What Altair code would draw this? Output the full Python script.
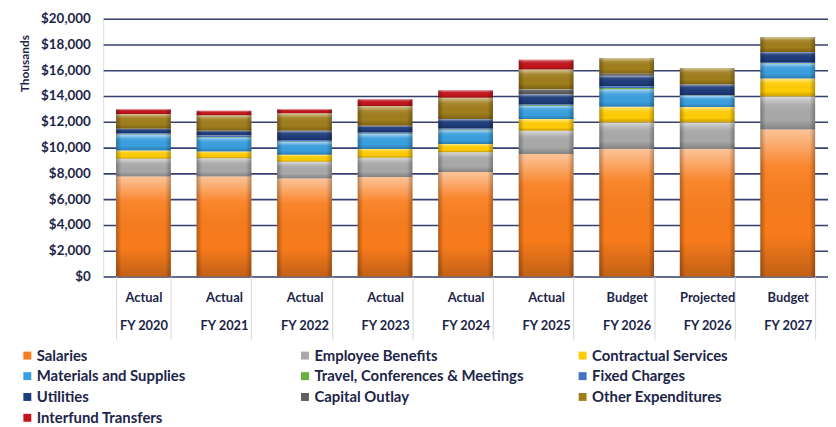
import altair as alt
import pandas as pd

periods = ["Actual|FY 2020", "Actual|FY 2021", "Actual|FY 2022", "Actual|FY 2023",
           "Actual|FY 2024", "Actual|FY 2025", "Budget|FY 2026", "Projected|FY 2026",
           "Budget|FY 2027"]
series_names = ["Salaries", "Employee Benefits", "Contractual Services",
                "Materials and Supplies", "Travel, Conferences & Meetings",
                "Fixed Charges", "Utilities", "Capital Outlay",
                "Other Expenditures", "Interfund Transfers"]

salaries    = [7750, 7750, 7600, 7720, 8100, 9510, 9900, 9900, 11400]
benefits    = [1380, 1430, 1300, 1490, 1540, 1800, 2050, 2050, 2560]
contractual = [640, 510, 550, 690, 640, 900, 1210, 1200, 1410]
materials   = [1200, 1100, 980, 1150, 1070, 1020, 1360, 850, 1150]
travel      = [40, 40, 50, 50, 60, 60, 100, 40, 50]
fixed       = [100, 100, 100, 100, 100, 70, 150, 40, 80]
utilities   = [360, 380, 720, 490, 700, 770, 800, 820, 770]
capital     = [0, 0, 0, 0, 0, 390, 150, 0, 0]
other       = [1140, 1200, 1360, 1540, 1660, 1530, 1230, 1280, 1160]
interfund   = [360, 340, 310, 520, 570, 770, 0, 0, 0]

colors = ["#F97C1C", "#A9A9A9", "#FFCC05", "#3A9FDF", "#68B03A",
          "#4472C4", "#1F3D7C", "#5F5F5F", "#A07E1C", "#C2151C"]

all_series = [salaries, benefits, contractual, materials, travel, fixed,
              utilities, capital, other, interfund]

rows = []
for i, (name, vals) in enumerate(zip(series_names, all_series)):
    for p, v in zip(periods, vals):
        rows.append({"period": p, "series": name, "idx": i, "value": v})
df = pd.DataFrame(rows)

FONT = "Lato"
TXT = "#1C2548"

x_enc = alt.X("period:N", sort=periods,
              scale=alt.Scale(paddingInner=0.32, paddingOuter=0.16),
              axis=alt.Axis(title=None, labelExpr="split(datum.label, '|')",
                            labelAngle=0, labelFont=FONT, labelFontWeight="bold",
                            labelFontSize=13, labelColor=TXT, labelLineHeight=28,
                            tickBand="extent", ticks=True, tickSize=63,
                            tickColor="#D6D6D6", tickWidth=1, domain=False,
                            labelPadding=-48, grid=False))
y_enc = alt.Y("value:Q", stack="zero",
              scale=alt.Scale(domain=[0, 20000], nice=False),
              axis=alt.Axis(title="Thousands", values=list(range(0, 20001, 2000)),
                            format="$,.0f", labelFont=FONT, labelFontWeight="bold",
                            labelFontSize=13.5, labelColor=TXT, labelPadding=13,
                            ticks=False, domain=False, grid=True,
                            gridColor="#34406E", gridWidth=1.6,
                            titleFont=FONT, titleFontWeight="bold", titleFontSize=12,
                            titleColor=TXT, titleAngle=-90, titleAlign="right",
                            titleBaseline="middle", titleX=-79, titleY=16))

base = alt.Chart(df).mark_bar(stroke=None).encode(
    x=x_enc,
    y=y_enc,
    color=alt.Color("series:N", sort=series_names,
                    scale=alt.Scale(domain=series_names, range=colors),
                    legend=alt.Legend(title=None, orient="none", legendX=-84,
                                      legendY=332, columns=3, gridAlign="all",
                                      direction="horizontal",
                                      columnPadding=51, rowPadding=5,
                                      symbolType="square", symbolSize=64,
                                      symbolStrokeWidth=0, labelFont=FONT,
                                      labelFontWeight="bold", labelFontSize=15,
                                      labelColor=TXT, labelOffset=2,
                                      labelLimit=400)),
    order=alt.Order("idx:Q", sort="ascending"),
)

shade_v = alt.Gradient(gradient="linear", x1=0, x2=0, y1=0, y2=1, stops=[
    alt.GradientStop(color="rgba(255,255,255,0.55)", offset=0),
    alt.GradientStop(color="rgba(255,255,255,0.08)", offset=0.25),
    alt.GradientStop(color="rgba(0,0,0,0)", offset=0.7),
    alt.GradientStop(color="rgba(0,0,0,0.22)", offset=1)])
shade_h = alt.Gradient(gradient="linear", x1=0, x2=1, y1=0, y2=0, stops=[
    alt.GradientStop(color="rgba(0,0,0,0.28)", offset=0),
    alt.GradientStop(color="rgba(0,0,0,0)", offset=0.1),
    alt.GradientStop(color="rgba(0,0,0,0)", offset=0.9),
    alt.GradientStop(color="rgba(0,0,0,0.28)", offset=1)])

over_v = alt.Chart(df).mark_bar(fill=shade_v, stroke=None).encode(
    x=x_enc, y=y_enc, detail="series:N",
    order=alt.Order("idx:Q", sort="ascending"))
over_h = alt.Chart(df).mark_bar(fill=shade_h, stroke=None).encode(
    x=x_enc, y=y_enc, detail="series:N",
    order=alt.Order("idx:Q", sort="ascending"))

chart = alt.layer(base, over_v, over_h).properties(
    width=731, height=260,
    autosize=alt.AutoSizeParams(type="none"),
    padding={"left": 96, "top": 9, "right": 0, "bottom": 150},
).configure_view(stroke=None).configure(background="white")

chart.save("out.html", embed_options={"renderer": "svg", "actions": False})
